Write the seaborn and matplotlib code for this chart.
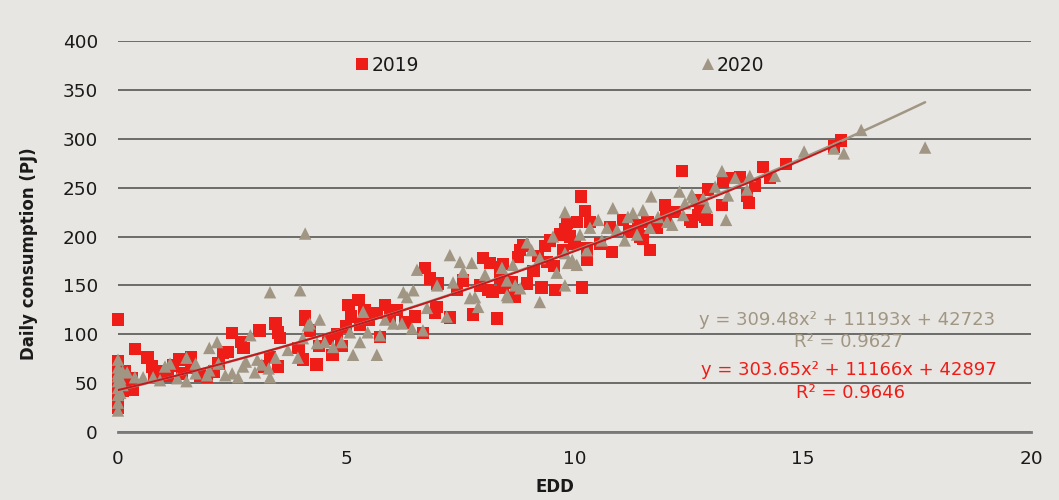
import numpy as np
import pandas as pd
import matplotlib
matplotlib.use("Agg")
import matplotlib.pyplot as plt
import seaborn as sns

# ---- data ----
x2019 = [0, 0, 0, 0, 0, 0, 0, 0, 0, 0.05, 0.05, 0.1, 0.1, 0.15, 0.2,
         0.33, 0.37, 0.3, 0.65, 0.75, 0.8, 1.0, 1.1, 1.2, 1.35, 1.4, 1.5, 1.6, 1.6, 1.8,
         1.95, 2.1, 2.2, 2.3, 2.4, 2.5, 2.7, 2.75, 3.1, 3.2, 3.33, 3.45, 3.5, 3.5, 3.55,
         3.95, 4.05, 4.1, 4.1, 4.2, 4.35, 4.4, 4.6, 4.7, 4.8, 4.9, 5.0, 5.05, 5.1, 5.27,
         5.3, 5.4, 5.5, 5.67, 5.74, 5.85, 5.96, 6.1, 6.3, 6.5, 6.68, 6.73, 6.84, 6.94, 6.98,
         7.0, 7.27, 7.42, 7.56, 7.78, 7.93, 8.0, 8.1, 8.15, 8.2, 8.3, 8.37, 8.37, 8.43,
         8.43, 8.63, 8.7, 8.76, 8.8, 8.87, 8.96, 9.1, 9.2, 9.28, 9.35, 9.4, 9.46, 9.55,
         9.57, 9.68, 9.75, 9.8, 9.83, 9.9, 10.0, 10.05, 10.14, 10.16, 10.23, 10.27, 10.27,
         10.34, 10.56, 10.78, 10.82, 11.06, 11.2, 11.39, 11.43, 11.5, 11.6, 11.65, 11.8,
         11.98, 12.0, 12.2, 12.35, 12.53, 12.57, 12.68, 12.7, 12.75, 12.86, 12.9, 12.92,
         13.23, 13.25, 13.45, 13.63, 13.78, 13.82, 13.95, 14.13, 14.28, 14.63, 15.68, 15.84]
y2019 = [115, 25, 32, 38, 45, 52, 58, 65, 72, 48, 60, 55, 42, 62, 50,
         43, 85, 55, 76, 67, 56, 62, 58, 68, 74, 60, 74, 77, 66, 58,
         56, 62, 70, 81, 82, 101, 92, 86, 104, 67, 77, 111, 102, 67, 96,
         86, 74, 118, 115, 104, 69, 88, 95, 79, 100, 88, 108, 130, 118, 135,
         110, 125, 115, 122, 97, 130, 118, 125, 112, 118, 101, 168, 157, 122, 128,
         152, 117, 145, 155, 120, 150, 178, 145, 173, 143, 116, 169, 158, 148,
         172, 153, 138, 179, 186, 191, 152, 165, 180, 148, 190, 174, 196, 170,
         145, 202, 186, 207, 214, 200, 193, 215, 241, 148, 226, 176, 188,
         215, 193, 210, 184, 217, 205, 212, 200, 198, 215, 186, 209,
         232, 220, 225, 267, 217, 215, 237, 222, 230, 220, 217, 248,
         232, 256, 260, 261, 242, 234, 252, 271, 260, 274, 292, 298]

x2020 = [0, 0, 0, 0, 0, 0, 0, 0, 0, 0.05, 0.05, 0.1, 0.1,
         0.2, 0.37, 0.55, 0.77, 0.92, 1.03, 1.14, 1.3, 1.5, 1.5, 1.7, 1.7, 1.95, 2.0, 2.0,
         2.17, 2.2, 2.35, 2.5, 2.63, 2.74, 2.8, 2.9, 3.0, 3.05, 3.15, 3.3, 3.33, 3.33,
         3.45, 3.72, 3.94, 3.99, 4.05, 4.1, 4.16, 4.2, 4.36, 4.42, 4.53, 4.71, 4.9, 5.08,
         5.15, 5.3, 5.37, 5.47, 5.67, 5.74, 5.85, 6.03, 6.22, 6.25, 6.33, 6.44, 6.47, 6.55,
         6.68, 6.77, 6.99, 7.2, 7.27, 7.34, 7.49, 7.56, 7.71, 7.75, 7.82, 7.89, 8.04, 8.41,
         8.52, 8.52, 8.54, 8.65, 8.7, 8.81, 8.96, 9.06, 9.24, 9.24, 9.53, 9.61, 9.79, 9.79,
         9.79, 9.86, 9.95, 10.05, 10.12, 10.27, 10.34, 10.52, 10.6, 10.71, 10.84, 10.93,
         11.1, 11.17, 11.28, 11.37, 11.5, 11.65, 11.68, 11.83, 12.03, 12.14, 12.3, 12.38,
         12.42, 12.57, 12.6, 12.82, 12.9, 13.08, 13.23, 13.32, 13.36, 13.52, 13.78, 13.84,
         14.39, 15.03, 15.68, 15.9, 16.28, 17.68]
y2020 = [22, 30, 38, 45, 52, 57, 60, 66, 74, 40, 55, 48, 62,
         61, 56, 56, 56, 53, 67, 70, 55, 76, 52, 70, 60, 58, 86, 63,
         92, 70, 58, 60, 56, 67, 72, 99, 61, 74, 69, 65, 56, 143,
         76, 84, 76, 145, 96, 203, 109, 111, 91, 115, 92, 87, 92, 102,
         79, 92, 123, 102, 79, 99, 115, 111, 111, 143, 138, 106, 145, 166,
         104, 127, 150, 118, 181, 153, 174, 164, 137, 173, 138, 128, 161, 168,
         140, 155, 138, 171, 150, 147, 194, 186, 178, 133, 200, 163, 225, 150,
         183, 173, 176, 171, 202, 186, 209, 217, 196, 209, 229, 207,
         196, 220, 224, 202, 227, 209, 241, 220, 215, 212, 246, 222,
         234, 243, 240, 239, 230, 251, 267, 217, 242, 260, 248, 262,
         262, 287, 290, 285, 309, 291]

# Excel trendline coefficients shown on the chart (output in TJ -> PJ)
coef2019 = [303.65, 11166, 42897]
coef2020 = [309.48, 11193, 42723]
eq2019 = ["y = 303.65x² + 11166x + 42897", "R² = 0.9646"]
eq2020 = ["y = 309.48x² + 11193x + 42723", "R² = 0.9627"]

RED = "#EE1D18"
GREY = "#A09683"
LRED = "#C8161B"
BG = "#E8E6E2"

sns.set_theme(style="white")
plt.rcParams["font.family"] = ["DejaVu Sans"]

fig = plt.figure(figsize=(10.59, 5.0), dpi=100, facecolor=BG)
ax = fig.add_axes([118/1059, 1-432/500, 913/1059, 391/500])
ax.set_facecolor(BG)

df = pd.concat([
    pd.DataFrame({"EDD": x2019, "PJ": y2019, "year": "2019"}),
    pd.DataFrame({"EDD": x2020, "PJ": y2020, "year": "2020"}),
])

sns.scatterplot(data=df, x="EDD", y="PJ", hue="year", style="year",
                markers={"2019": "s", "2020": "^"},
                palette={"2019": RED, "2020": GREY},
                s=80, linewidth=0, alpha=1.0, ax=ax, zorder=3, clip_on=False)

# trendlines
for coef, xmax, col, lw in [(coef2020, max(x2020), GREY, 1.8), (coef2019, max(x2019), LRED, 1.4)]:
    xs = np.linspace(0, xmax, 100)
    ys = np.polyval(coef, xs) / 1000.0
    sns.lineplot(x=xs, y=ys, color=col, lw=lw, ax=ax, zorder=4)

ax.set_xlim(0, 20)
ax.set_ylim(0, 400)
ax.set_xticks(range(0, 21, 5))
ax.set_yticks(range(0, 401, 50))
ax.grid(axis="y", color="#4a4a4a", lw=1.1, zorder=0)
ax.set_axisbelow(True)
for s in ["top", "right", "left"]:
    ax.spines[s].set_visible(False)
ax.spines["bottom"].set_color("#7a7a7a")
ax.spines["bottom"].set_linewidth(2)
ax.tick_params(axis="x", direction="out", length=6, width=1, color="#555555",
               labelsize=13.3, pad=7, labelcolor="#1a1a1a")
ax.tick_params(axis="y", length=0, labelsize=13.3, pad=14.5, labelcolor="#1a1a1a")

ax.set_xlabel("EDD", fontsize=12, fontweight="bold", color="#1a1a1a")
ax.set_ylabel("Daily consumption (PJ)", fontsize=12, fontweight="bold", color="#1a1a1a")
ax.xaxis.set_label_coords(0.479, -0.118)
ax.yaxis.set_label_coords(-0.0876, 0.455)

# equations
ax.text(0.799, 0.2864, eq2020[0], transform=ax.transAxes, ha="center", va="center",
        color=GREY, fontsize=13)
ax.text(0.800, 0.230, eq2020[1], transform=ax.transAxes, ha="center", va="center",
        color=GREY, fontsize=13)
ax.text(0.8007, 0.1586, eq2019[0], transform=ax.transAxes, ha="center", va="center",
        color=RED, fontsize=13)
ax.text(0.802, 0.0997, eq2019[1], transform=ax.transAxes, ha="center", va="center",
        color=RED, fontsize=13)

leg = ax.legend(loc="center", bbox_to_anchor=(0.4836, 0.9386), ncol=2, frameon=False,
                fontsize=13.5, handletextpad=0.1, columnspacing=15.0, markerscale=1.0,
                handlelength=0.8, borderaxespad=0, borderpad=0)
for t in leg.get_texts():
    t.set_color("#1a1a1a")

fig.savefig("out.png", dpi=100, facecolor=BG)
